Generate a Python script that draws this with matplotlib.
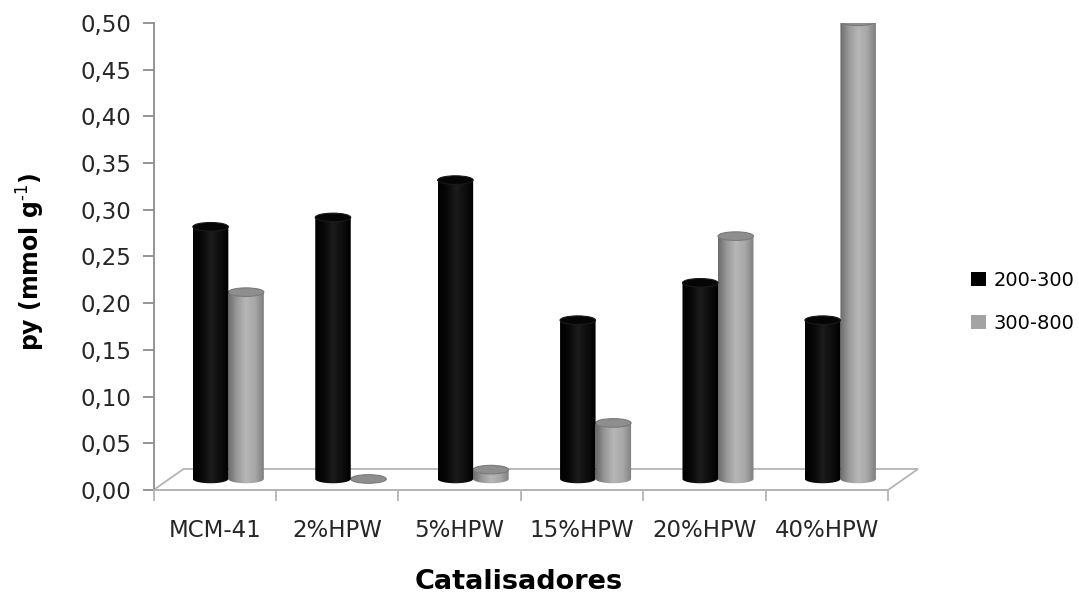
import numpy as np
import matplotlib
matplotlib.use("Agg")
import matplotlib.pyplot as plt
from matplotlib.patches import Ellipse, Polygon, Rectangle, PathPatch
from matplotlib.path import Path
from matplotlib.colors import LinearSegmentedColormap

# ---- data ----
categories = ["MCM-41", "2%HPW", "5%HPW", "15%HPW", "20%HPW", "40%HPW"]
series_names = ["200-300", "300-800"]
values_200_300 = [0.27, 0.28, 0.32, 0.17, 0.21, 0.17]
values_300_800 = [0.20, 0.00, 0.01, 0.06, 0.26, 0.49]
yticks = [0.00, 0.05, 0.10, 0.15, 0.20, 0.25, 0.30, 0.35, 0.40, 0.45, 0.50]
ytick_labels = ["0,00", "0,05", "0,10", "0,15", "0,20", "0,25", "0,30", "0,35", "0,40", "0,45", "0,50"]

# ---- style ----
base = 0.0118          # bars stand at mid-depth of the 3D floor
bar_w = 0.29
offsets = [0.466, 0.756]
ell_h = 0.0092
depth_dx, depth_dy = 0.245, 0.0225
axis_col = "#8c8c8c"

cmap_black = LinearSegmentedColormap.from_list(
    "blk", ["#000000", "#080808", "#1c1c1c", "#0e0e0e", "#000000"])
cmap_gray = LinearSegmentedColormap.from_list(
    "gry", ["#6a6a6a", "#9a9a9a", "#b6b6b6", "#a8a8a8", "#7e7e7e"])
top_cols = ["#050505", "#8e8e8e"]
top_edges = ["#1a1a1a", "#7a7a7a"]
legend_cols = ["#000000", "#a3a3a3"]

fig = plt.figure(figsize=(10.79, 5.94), dpi=100)
ax = fig.add_axes([0.1423, 0.1751, 0.6807, 0.7862])

# 3D floor
floor = Polygon([(0, 0), (6, 0), (6 + depth_dx, depth_dy), (depth_dx, depth_dy)],
                closed=True, facecolor="white", edgecolor="#b4b4b4", lw=1.3,
                zorder=1, clip_on=False)
ax.add_patch(floor)

grad = np.linspace(0, 1, 256).reshape(1, -1)
x = np.arange(len(categories))
theta = np.linspace(np.pi, 2 * np.pi, 60)

for s_idx, (vals, cmap) in enumerate([(values_200_300, cmap_black),
                                      (values_300_800, cmap_gray)]):
    z = 3 + (1 - s_idx) * 3
    bars = ax.bar(x + offsets[s_idx], vals, width=bar_w, bottom=base,
                  color="none", edgecolor="none", zorder=z)
    for rect, v in zip(bars.patches, vals):
        x0 = rect.get_x()
        w = rect.get_width()
        cx = x0 + w / 2
        # cylinder body: rectangle with a rounded (half-ellipse) bottom
        bx = cx + (w / 2) * np.cos(theta)
        by = base + (ell_h / 2) * np.sin(theta)
        verts = list(zip(bx, by)) + [(x0 + w, base + v), (x0, base + v), (bx[0], by[0])]
        codes = [Path.MOVETO] + [Path.LINETO] * (len(verts) - 2) + [Path.CLOSEPOLY]
        body = PathPatch(Path(verts, codes), facecolor="none", edgecolor="none",
                         transform=ax.transData)
        ax.add_patch(body)
        im = ax.imshow(grad, cmap=cmap, aspect="auto",
                       extent=(x0, x0 + w, base - ell_h, base + v), zorder=z + 0.5)
        im.set_clip_path(body)
        # top ellipse
        ax.add_patch(Ellipse((cx, base + v), w, ell_h,
                             facecolor=top_cols[s_idx], edgecolor=top_edges[s_idx],
                             lw=0.8, zorder=z + 1))

ax.set_xlim(0, 6)
ax.set_ylim(0, 0.5)

for sp in ["top", "right"]:
    ax.spines[sp].set_visible(False)
ax.spines["left"].set_color(axis_col)
ax.spines["left"].set_linewidth(1.3)
ax.spines["bottom"].set_color("#b4b4b4")
ax.spines["bottom"].set_linewidth(1.3)

ax.set_yticks(yticks)
ax.set_yticklabels(ytick_labels, fontsize=16.5, color="#262626")
ax.tick_params(axis="y", length=8, width=1.3, color=axis_col, pad=8)

ax.set_xticks(np.arange(0, 7))
ax.set_xticklabels([])
ax.set_xticks(np.arange(6) + 0.5, minor=True)
ax.set_xticklabels(categories, minor=True, fontsize=16.5, color="#262626")
ax.tick_params(axis="x", which="major", length=8, width=1.3, color="#b4b4b4")
ax.tick_params(axis="x", which="minor", length=0, pad=21)

fig.text(31 / 1079, 1 - 262 / 594, r"py (mmol g$^{\text{-1}}$)",
         rotation=90, ha="center", va="center", fontsize=17, fontweight="bold")
fig.text(519 / 1079, 1 - 582 / 594, "Catalisadores",
         ha="center", va="center", fontsize=19.5, fontweight="bold")

handles = [Rectangle((0, 0), 1, 1, facecolor=c, edgecolor="none") for c in legend_cols]
fig.legend(handles, series_names, loc="center left",
           bbox_to_anchor=(971 / 1079, 1 - 302 / 594), bbox_transform=fig.transFigure,
           frameon=False, fontsize=14, handlelength=0.75, handleheight=0.75,
           handletextpad=0.4, labelspacing=1.25, borderpad=0, borderaxespad=0)

fig.savefig("out.png", dpi=100, facecolor="white")
